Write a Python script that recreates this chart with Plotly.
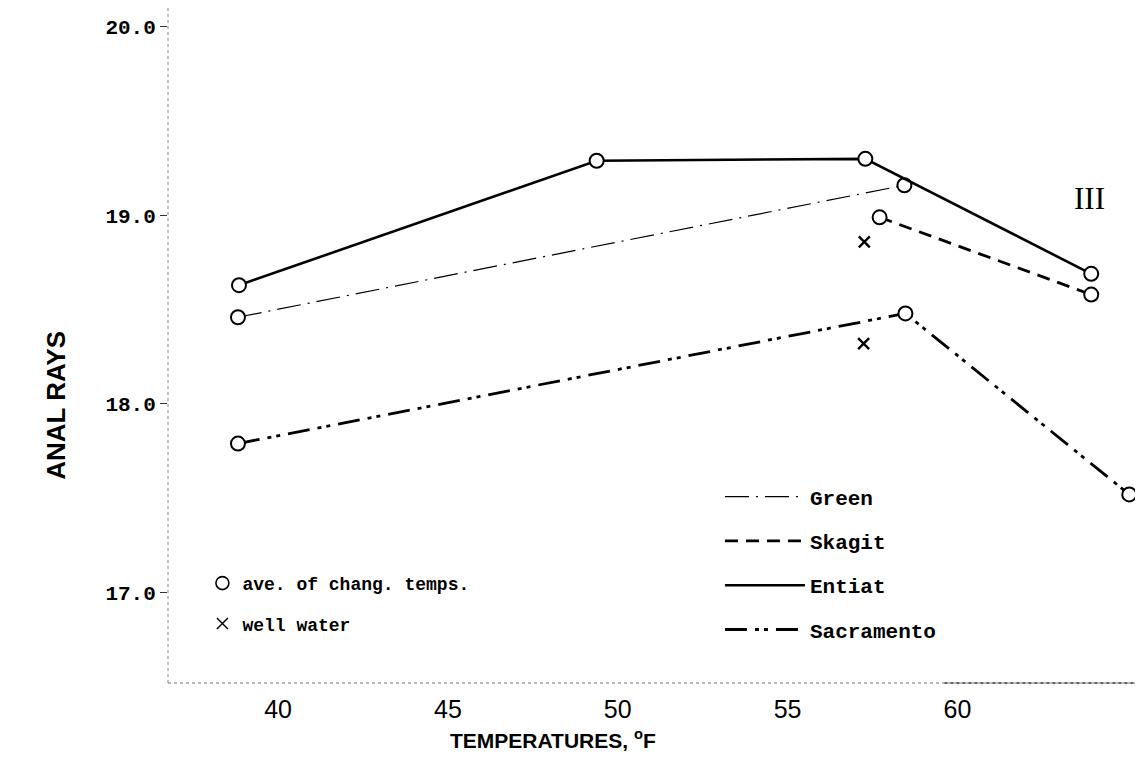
import plotly.graph_objects as go

# ---- data ----
entiat_x = [38.85, 49.38, 57.29, 63.94]
entiat_y = [18.63, 19.29, 19.30, 18.69]
green_x = [38.82, 58.44]
green_y = [18.46, 19.16]
skagit_x = [57.71, 63.94]
skagit_y = [18.99, 18.58]
sacramento_x = [38.82, 58.47, 65.06]
sacramento_y = [17.79, 18.48, 17.52]
well_x = [57.26, 57.24]
well_y = [18.86, 18.32]

x_ticks = [40, 45, 50, 55, 60]
y_ticks = [17.0, 18.0, 19.0, 20.0]
y_tick_text = ["17.0", "18.0", "19.0", "20.0"]

MONO = "Liberation Mono, Courier New, monospace"
NARROW = "Liberation Sans Narrow, Liberation Sans, sans-serif"

circle_marker = dict(symbol="circle", size=14, color="white",
                     line=dict(color="black", width=2))

series = [
    ("Green", green_x, green_y, dict(color="black", width=1.2, dash="24px,7px,2px,7px")),
    ("Skagit", skagit_x, skagit_y, dict(color="black", width=2.8, dash="13px,8px")),
    ("Entiat", entiat_x, entiat_y, dict(color="black", width=2.6)),
    ("Sacramento", sacramento_x, sacramento_y, dict(color="black", width=2.8, dash="22px,8px,4px,5px,4px,8px")),
]

fig = go.Figure()

for name, xs, ys, line in series:
    fig.add_trace(go.Scatter(x=xs, y=ys, mode="lines+markers", line=line,
                             marker=circle_marker, showlegend=False, name=name))

fig.add_trace(go.Scatter(x=well_x, y=well_y, mode="markers", showlegend=False,
                         marker=dict(symbol="x-thin", size=11,
                                     line=dict(color="black", width=2.4)),
                         name="well water"))

# legend 1 : symbols
fig.add_trace(go.Scatter(x=[None], y=[None], mode="markers", name="ave. of chang. temps.",
                         marker=dict(symbol="circle-open", size=13, color="black",
                                     line=dict(width=1.6)),
                         legend="legend", legendgroup="a"))
fig.add_trace(go.Scatter(x=[None], y=[None], mode="markers", name="well water",
                         marker=dict(symbol="x-thin", size=11,
                                     line=dict(color="black", width=1.4)),
                         legend="legend", legendgroup="b"))

# legend 2 : line styles
for i, (name, xs, ys, line) in enumerate(series):
    fig.add_trace(go.Scatter(x=[None], y=[None], mode="lines", name=name, line=line,
                             legend="legend2", legendgroup="g%d" % i))

fig.update_layout(
    width=1143, height=757,
    margin=dict(l=160, r=0, t=0, b=82),
    plot_bgcolor="white", paper_bgcolor="white",
    font=dict(family=MONO, color="black"),
    xaxis=dict(range=[36.76, 65.7], tickvals=x_ticks, showgrid=False, zeroline=False,
               showline=False, ticks="", ticklabelstandoff=9,
               tickfont=dict(family=NARROW, size=25)),
    yaxis=dict(range=[16.52, 20.1], tickvals=y_ticks, ticktext=y_tick_text,
               showgrid=False, zeroline=False, showline=False,
               ticks="outside", ticklen=7, tickwidth=1.2, tickcolor="#333",
               tickfont=dict(family=MONO, size=21, weight="bold")),
    legend=dict(x=0.035, y=0.175, xanchor="left", yanchor="top",
                bgcolor="rgba(0,0,0,0)", tracegroupgap=14,
                font=dict(family=MONO, size=18, weight="bold")),
    legend2=dict(x=0.5615, y=0.306, xanchor="left", yanchor="top",
                 bgcolor="rgba(0,0,0,0)", tracegroupgap=14, itemwidth=80,
                 font=dict(family=MONO, size=21, weight="bold")),
    showlegend=True,
)

# dotted axis lines
fig.add_shape(type="line", xref="paper", yref="paper", x0=0, x1=0, y0=0, y1=1,
              line=dict(color="#888", width=1, dash="dot"))
fig.add_shape(type="line", xref="paper", yref="paper", x0=0, x1=1, y0=0, y1=0,
              line=dict(color="#777", width=1.2, dash="dot"))
fig.add_shape(type="line", xref="paper", yref="paper", x0=0.79, x1=1, y0=0, y1=0,
              line=dict(color="#333", width=1.4, dash="dot"))

fig.add_annotation(text="ANAL RAYS", xref="paper", yref="paper", x=-0.114, y=0.412,
                   xanchor="center", yanchor="middle",
                   textangle=-90, showarrow=False,
                   font=dict(family=NARROW, size=26, weight="bold"))
fig.add_annotation(text="TEMPERATURES, <sup>o</sup>F", xref="paper", yref="paper",
                   x=0.392, y=-0.083, xanchor="center", yanchor="middle", showarrow=False,
                   font=dict(family=NARROW, size=21, weight="bold"))
fig.add_annotation(text="III", xref="paper", yref="paper", x=0.937, y=0.718,
                   xanchor="center", yanchor="middle",
                   showarrow=False, font=dict(family="Liberation Serif", size=31))

fig.write_html("out.html")
